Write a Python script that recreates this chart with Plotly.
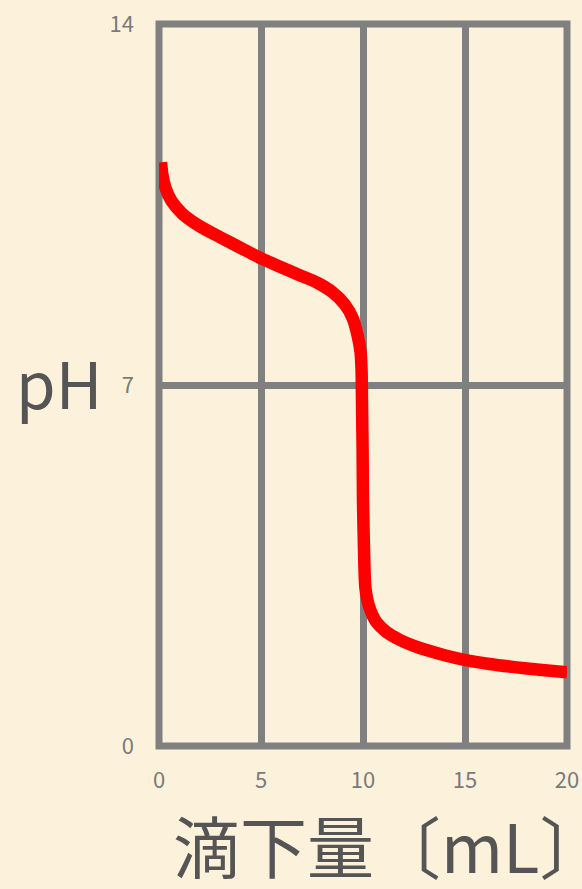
import plotly.graph_objects as go

# titration curve (volume in mL, pH)
volume = [0.10, 0.17, 0.32, 0.61, 1.15, 1.99, 2.97, 4.0, 4.98, 5.96, 6.89, 7.77, 8.5, 9.09, 9.49,
          9.73, 9.88, 9.93, 9.95, 9.98, 10.0, 10.05, 10.12, 10.32, 10.66, 11.15, 11.79, 12.43,
          13.11, 14.0, 14.98, 16.2, 17.43, 18.65, 20]
ph = [11.32, 11.07, 10.82, 10.57, 10.32, 10.08, 9.87, 9.66, 9.46, 9.29, 9.13, 8.98, 8.80, 8.57, 8.30,
      7.97, 7.64, 7.29, 6.71, 5.74, 4.77, 3.80, 3.06, 2.68, 2.40, 2.21, 2.06, 1.95,
      1.86, 1.76, 1.67, 1.59, 1.53, 1.48, 1.43]

x_ticks = [0, 5, 10, 15, 20]
y_ticks = [0, 7, 14]

bg = '#fcf2dc'
grid = '#808080'
tick_font = dict(family='Noto Sans CJK JP', size=22, color='#7a7a7a')

fig = go.Figure()
fig.add_trace(go.Scatter(
    x=volume, y=ph, mode='lines',
    line=dict(color='#ff0000', width=12.5, shape='spline', smoothing=0.7),
    cliponaxis=False, showlegend=False, hoverinfo='skip',
))

# outer frame (plotly leaves out the grid lines at the range ends)
fig.add_shape(type='rect', xref='paper', yref='paper', x0=0, x1=1, y0=0, y1=1,
              line=dict(color=grid, width=7), layer='below')

fig.update_layout(
    width=582, height=889,
    margin=dict(l=159, r=15, t=24, b=143),
    paper_bgcolor=bg, plot_bgcolor='rgba(0,0,0,0)',
    xaxis=dict(
        range=[0, 20], tickvals=x_ticks, ticks='', showgrid=True,
        gridcolor=grid, gridwidth=7, zeroline=False, showline=False,
        tickfont=tick_font, ticklabelstandoff=19, automargin=False,
    ),
    yaxis=dict(
        range=[0, 14], tickvals=y_ticks, ticks='', showgrid=True,
        gridcolor=grid, gridwidth=7, zeroline=False, showline=False,
        tickfont=tick_font, ticklabelstandoff=24, automargin=False,
    ),
    annotations=[
        dict(text='pH', x=-0.245, y=0.505, xref='paper', yref='paper',
             xanchor='center', yanchor='middle', showarrow=False,
             font=dict(family='Noto Sans CJK JP', size=64, color='#555555')),
        dict(text='滴下量〔mL〕', x=0.566, y=-0.1357, xref='paper', yref='paper',
             xanchor='center', yanchor='middle', showarrow=False,
             font=dict(family='Noto Sans CJK JP', size=67, color='#555555')),
    ],
)

# drop the browser's default page margin so the figure fills the window
fig.write_html('out.html', config={'displayModeBar': False},
               post_script="document.body.style.margin='0';document.body.style.background='#fcf2dc';")
